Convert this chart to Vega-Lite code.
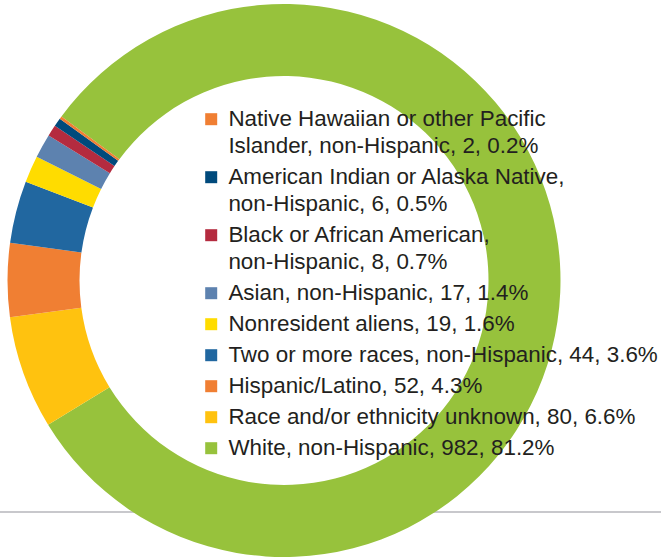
{
  "$schema": "https://vega.github.io/schema/vega-lite/v6.json",
  "width": 661,
  "height": 512,
  "autosize": {"type": "none"},
  "padding": {"left": 0, "top": 0, "right": 0, "bottom": 45},
  "background": "#ffffff",
  "config": {"view": {"stroke": null}, "style": {"guide-label": {"lineHeight": 26.5}}},
  "data": {
    "values": [
      {"label": "White, non-Hispanic, 982, 81.2%", "count": 982, "order": 1},
      {"label": "Race and/or ethnicity unknown, 80, 6.6%", "count": 80, "order": 2},
      {"label": "Hispanic/Latino, 52, 4.3%", "count": 52, "order": 3},
      {"label": "Two or more races, non-Hispanic, 44, 3.6%", "count": 44, "order": 4},
      {"label": "Nonresident aliens, 19, 1.6%", "count": 19, "order": 5},
      {"label": "Asian, non-Hispanic, 17, 1.4%", "count": 17, "order": 6},
      {"label": "Black or African American,\nnon-Hispanic, 8, 0.7%", "count": 8, "order": 7},
      {"label": "American Indian or Alaska Native,\nnon-Hispanic, 6, 0.5%", "count": 6, "order": 8},
      {"label": "Native Hawaiian or other Pacific\nIslander, non-Hispanic, 2, 0.2%", "count": 2, "order": 9}
    ]
  },
  "layer": [
    {
      "mark": {"type": "rule", "color": "#c8c8cc", "strokeWidth": 2},
      "encoding": {
        "y": {"datum": 0, "type": "quantitative", "scale": {"domain": [0, 1]}, "axis": null}
      }
    },
    {
      "mark": {"type": "arc", "innerRadius": 204.5, "outerRadius": 276.5, "x": 284, "y": 280.5, "stroke": null},
      "encoding": {
        "theta": {"field": "count", "type": "quantitative", "stack": true, "scale": {"range": [-0.9355, 5.3477]}},
        "order": {"field": "order", "type": "quantitative"},
        "color": {
          "field": "label",
          "type": "nominal",
          "scale": {
            "domain": [
              "Native Hawaiian or other Pacific\nIslander, non-Hispanic, 2, 0.2%",
              "American Indian or Alaska Native,\nnon-Hispanic, 6, 0.5%",
              "Black or African American,\nnon-Hispanic, 8, 0.7%",
              "Asian, non-Hispanic, 17, 1.4%",
              "Nonresident aliens, 19, 1.6%",
              "Two or more races, non-Hispanic, 44, 3.6%",
              "Hispanic/Latino, 52, 4.3%",
              "Race and/or ethnicity unknown, 80, 6.6%",
              "White, non-Hispanic, 982, 81.2%"
            ],
            "range": ["#f07f33", "#004a7c", "#b42b3f", "#5d82af", "#ffdc00", "#2167a0", "#f07f33", "#ffc20f", "#97c23c"]
          },
          "legend": {
            "orient": "none",
            "legendX": 200,
            "legendY": 108,
            "title": null,
            "padding": 0,
            "symbolType": "square",
            "symbolSize": 144,
            "symbolStrokeWidth": 0,
            "labelFont": "Liberation Sans",
            "labelFontSize": 22.4,
            "labelColor": "#231f20",
            "labelLimit": 0,
            "labelOffset": 6,
            "rowPadding": 8,
            "labelExpr": "split(datum.label, '\\n')"
          }
        }
      }
    }
  ]
}
